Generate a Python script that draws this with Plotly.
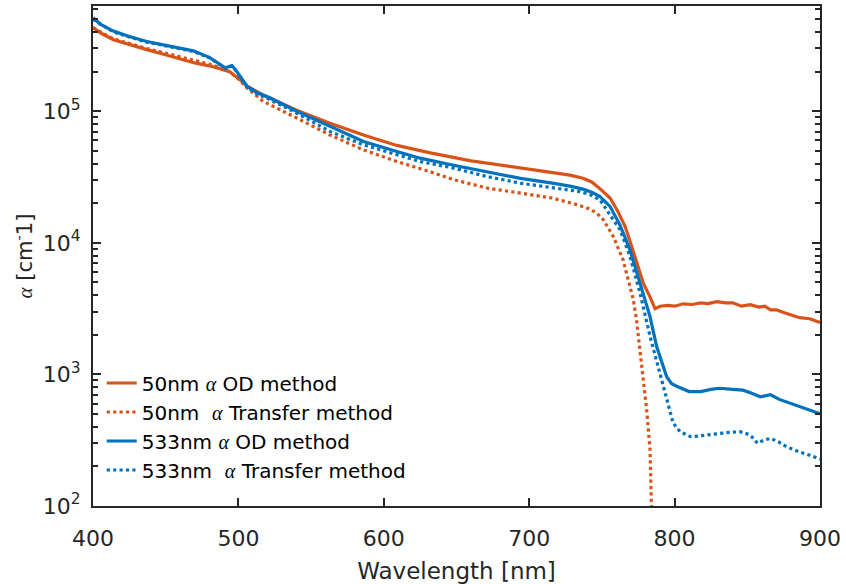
import plotly.graph_objects as go

# ---- data (wavelength in nm, absorption coefficient alpha in cm^-1) ----
od50_nm = [400, 405, 414, 425, 437, 448, 460, 470, 482, 494, 501, 506, 517, 540, 563, 586, 609,
           632, 660, 694, 715, 728, 737, 743, 749, 755.6, 761, 766, 770.5, 775, 778.6, 783, 786.5,
           790, 795, 800, 806, 812, 818, 823, 829, 835, 840, 846, 852, 858, 862, 866, 870, 875,
           880, 886, 893, 899, 900]
od50_a = [4.32e5, 3.95e5, 3.5e5, 3.2e5, 2.94e5, 2.72e5, 2.51e5, 2.33e5, 2.19e5, 2.0e5, 1.74e5,
          1.55e5, 1.33e5, 1.02e5, 8.1e4, 6.6e4, 5.5e4, 4.83e4, 4.2e4, 3.7e4, 3.45e4, 3.27e4,
          3.1e4, 2.9e4, 2.56e4, 2.19e4, 1.73e4, 1.33e4, 9.4e3, 6.6e3, 4.9e3, 3.9e3, 3.16e3,
          3.3e3, 3.35e3, 3.3e3, 3.44e3, 3.4e3, 3.5e3, 3.45e3, 3.57e3, 3.5e3, 3.5e3, 3.3e3,
          3.39e3, 3.25e3, 3.3e3, 3.09e3, 3.1e3, 2.95e3, 2.85e3, 2.7e3, 2.65e3, 2.51e3, 2.48e3]

tr50_nm = [400, 414, 437, 460, 482, 494, 501, 506, 517, 540, 563, 586, 609, 632, 648, 671, 694,
           716, 733, 741, 746, 751, 757.8, 764.6, 769.3, 771.6, 773.8, 776.2, 778.5, 780.8, 783.1,
           784.2, 785]
tr50_a = [4.32e5, 3.55e5, 3.0e5, 2.6e5, 2.25e5, 2.0e5, 1.72e5, 1.5e5, 1.19e5, 8.9e4, 6.6e4,
          5.09e4, 4.15e4, 3.47e4, 3.02e4, 2.61e4, 2.39e4, 2.19e4, 1.95e4, 1.82e4, 1.7e4, 1.5e4,
          1.12e4, 7.4e3, 4.66e3, 3.7e3, 2.6e3, 1.55e3, 900, 537, 269, 105, 40]

od533_nm = [400, 405, 414, 425, 437, 448, 460, 469, 480, 491, 495.5, 498, 506, 513, 522, 540,
            563, 586, 609, 625, 648, 671, 694, 716, 728, 737, 743, 748.7, 755.6, 762.4, 769.3,
            776.2, 783.1, 787.7, 790, 794.6, 798, 801.4, 810, 818, 825, 831, 840, 847, 853, 859,
            863, 866, 872, 880, 886, 893, 899, 900]
od533_a = [5.13e5, 4.6e5, 4.07e5, 3.7e5, 3.39e5, 3.2e5, 3.02e5, 2.88e5, 2.57e5, 2.14e5, 2.22e5,
           2.07e5, 1.55e5, 1.38e5, 1.26e5, 1.0e5, 7.7e4, 5.89e4, 4.94e4, 4.4e4, 3.89e4, 3.47e4,
           3.09e4, 2.84e4, 2.7e4, 2.56e4, 2.42e4, 2.25e4, 1.89e4, 1.37e4, 8.85e3, 4.94e3,
           2.75e3, 1.62e3, 1.36e3, 955, 851, 813, 741, 741, 770, 785, 770, 759, 720, 676, 690,
           700, 646, 600, 569, 535, 507, 503]

tr533_nm = [400, 414, 437, 460, 469, 480, 491, 495.5, 498, 506, 513, 522, 540, 563, 586, 609,
            625, 648, 671, 694, 716, 735, 742, 748.7, 755.6, 762.4, 769.3, 776.2, 783.1, 790,
            794.6, 799, 803.7, 811, 816, 822, 829, 836, 845, 852, 857, 861, 866, 872, 877, 886,
            893, 899, 900]
tr533_a = [5.0e5, 4.0e5, 3.35e5, 3.0e5, 2.85e5, 2.55e5, 2.12e5, 2.2e5, 2.05e5, 1.52e5, 1.35e5,
           1.22e5, 9.7e4, 7.03e4, 5.56e4, 4.68e4, 4.15e4, 3.7e4, 3.19e4, 2.84e4, 2.61e4, 2.45e4,
           2.32e4, 2.12e4, 1.63e4, 1.26e4, 7.9e3, 4.17e3, 1.95e3, 1.02e3, 646, 427, 367, 337,
           340, 347, 352, 361, 367, 347, 300, 315, 327, 305, 282, 257, 243, 229, 227]

x_tick_vals = [400, 500, 600, 700, 800, 900]
y_tick_vals = [100, 1000, 10000, 100000]
y_tick_text = ["10<sup>2</sup>", "10<sup>3</sup>", "10<sup>4</sup>", "10<sup>5</sup>"]
y_minor_vals = [200, 300, 400, 500, 600, 700, 800, 900,
                2000, 3000, 4000, 5000, 6000, 7000, 8000, 9000,
                20000, 30000, 40000, 50000, 60000, 70000, 80000, 90000,
                200000, 300000, 400000, 500000, 600000]

ORANGE = "#D95319"
BLUE = "#0072BD"
TXT = "#262626"
FONT = "DejaVu Sans, Liberation Sans, Arial, sans-serif"
ALPHA = '<span style="font-family:Liberation Serif, DejaVu Serif, serif"><i>α</i></span>'
NB = "\u00a0"

names = [
    f"50nm {ALPHA} OD method",
    f"50nm{NB}{NB}{ALPHA} Transfer method",
    f"533nm {ALPHA} OD method",
    f"533nm{NB}{NB}{ALPHA} Transfer method",
]

fig = go.Figure()
fig.add_trace(go.Scatter(x=od50_nm, y=od50_a, mode="lines", name=names[0],
                         line=dict(color=ORANGE, width=3.2)))
fig.add_trace(go.Scatter(x=tr50_nm, y=tr50_a, mode="lines", name=names[1],
                         line=dict(color=ORANGE, width=3.2, dash="dot")))
fig.add_trace(go.Scatter(x=od533_nm, y=od533_a, mode="lines", name=names[2],
                         line=dict(color=BLUE, width=3.2)))
fig.add_trace(go.Scatter(x=tr533_nm, y=tr533_a, mode="lines", name=names[3],
                         line=dict(color=BLUE, width=3.2, dash="dot")))
# invisible helper trace so the minor-tick overlay axis is drawn
fig.add_trace(go.Scatter(x=[x_tick_vals[0]], y=[y_tick_vals[1]], mode="none",
                         yaxis="y2", showlegend=False, hoverinfo="skip"))

fig.update_layout(
    width=846, height=584,
    margin=dict(l=93, r=26, t=6, b=78),
    paper_bgcolor="white", plot_bgcolor="white",
    font=dict(family=FONT, color=TXT, size=22),
    showlegend=True,
    legend=dict(x=0.012, y=0.285, xanchor="left", yanchor="top",
                bgcolor="rgba(0,0,0,0)", borderwidth=0,
                font=dict(family=FONT, size=20, color="black"),
                tracegroupgap=0),
    xaxis=dict(
        range=[400, 900], tickvals=x_tick_vals, automargin=False,
        showline=True, linecolor=TXT, linewidth=2, mirror="ticks",
        ticks="inside", ticklen=8, tickwidth=1.5, tickcolor=TXT,
        ticklabelstandoff=12,
        showgrid=False, zeroline=False,
        tickfont=dict(size=22, color=TXT),
        title=dict(text="Wavelength [nm]", font=dict(size=23, color=TXT), standoff=14),
    ),
    yaxis=dict(
        type="log", range=[2, 5.8], tickvals=y_tick_vals, ticktext=y_tick_text,
        automargin=False,
        showline=True, linecolor=TXT, linewidth=2, mirror="ticks",
        ticks="inside", ticklen=8, tickwidth=1.5, tickcolor=TXT,
        ticklabelstandoff=6,
        showgrid=False, zeroline=False,
        tickfont=dict(size=22, color=TXT),
        title=dict(text=f"{ALPHA} [cm<sup>-</sup>1]", font=dict(size=21, color=TXT), standoff=4),
    ),
    yaxis2=dict(
        type="log", range=[2, 5.8], overlaying="y", side="left", automargin=False,
        tickvals=y_minor_vals, showticklabels=False,
        showline=True, linecolor=TXT, linewidth=2, mirror="ticks",
        ticks="inside", ticklen=5, tickwidth=1.5, tickcolor=TXT,
        showgrid=False, zeroline=False,
    ),
)

fig.write_html("out.html")
